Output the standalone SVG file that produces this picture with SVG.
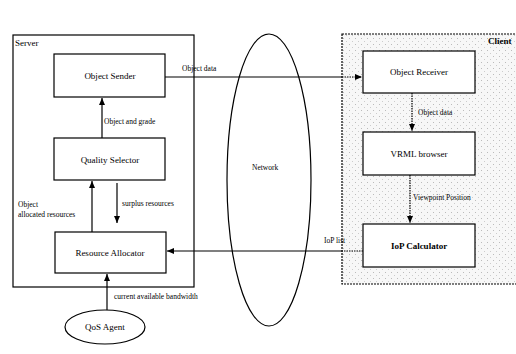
<svg xmlns="http://www.w3.org/2000/svg" width="516" height="354" viewBox="0 0 516 354">
<defs>
<style>
.box{fill:#fff;stroke:#000;stroke-width:1.2}
.lbl{font-family:"Liberation Serif",serif;font-size:9px;fill:#000}
.sm{font-family:"Liberation Serif",serif;font-size:7.5px;fill:#000}
.ln{stroke:#000;stroke-width:1.2;fill:none}
.dt{stroke:#000;stroke-width:1.2;fill:none;stroke-dasharray:1.5 1}
</style>
<pattern id="stip" width="6" height="6" patternUnits="userSpaceOnUse">
<rect width="6" height="6" fill="#f7f7f7"/>
<rect x="1" y="2" width="1" height="1" fill="#bbb"/>
<rect x="4" y="5" width="1" height="1" fill="#ccc"/>
</pattern>
<marker id="ah" markerWidth="8" markerHeight="8" refX="7" refY="4" orient="auto" markerUnits="userSpaceOnUse">
<path d="M0,1 L7,4 L0,7 Z" fill="#000"/>
</marker>
</defs>
<g id="server">
<rect x="13" y="35" width="181" height="252" fill="#fff" stroke="#000" stroke-width="1.2"/>
<text class="lbl" x="15" y="46">Server</text>
</g>
<g id="client">
<rect x="342" y="34" width="180" height="250" fill="url(#stip)" stroke="#000" stroke-width="1.2" stroke-dasharray="2 1"/>
<text class="lbl" x="488" y="44" font-weight="bold">Client</text>
</g>
<g id="network">
<ellipse cx="269" cy="180" rx="42" ry="146" fill="none" stroke="#000" stroke-width="1.2"/>
<text class="sm" x="252" y="170">Network</text>
</g>
<g id="object-sender">
<rect class="box" x="54" y="54" width="111" height="43"/>
<text class="lbl" x="110" y="79" text-anchor="middle">Object Sender</text>
</g>
<g id="quality-selector">
<rect class="box" x="54" y="138" width="111" height="42"/>
<text class="lbl" x="110" y="163" text-anchor="middle">Quality Selector</text>
</g>
<g id="resource-allocator">
<rect class="box" x="55" y="232" width="111" height="41"/>
<text class="lbl" x="110" y="256" text-anchor="middle">Resource Allocator</text>
</g>
<g id="qos-agent">
<ellipse cx="105" cy="327" rx="40" ry="17" fill="#fff" stroke="#000" stroke-width="1.2"/>
<text class="lbl" x="105" y="330" text-anchor="middle">QoS Agent</text>
</g>
<g id="object-receiver">
<rect class="box" x="363" y="51" width="112" height="42"/>
<text class="lbl" x="419" y="75" text-anchor="middle">Object Receiver</text>
</g>
<g id="vrml-browser">
<rect class="box" x="363" y="132" width="112" height="43"/>
<text class="lbl" x="419" y="157" text-anchor="middle">VRML browser</text>
</g>
<g id="iop-calculator">
<rect class="box" x="363" y="224" width="112" height="43"/>
<text class="lbl" x="419" y="249" text-anchor="middle" font-weight="bold">IoP Calculator</text>
</g>
<g id="connectors">
<path class="ln" d="M165,77 H342"/>
<path class="dt" d="M342,77 H362" marker-end="url(#ah)"/>
<text class="sm" x="182" y="71">Object data</text>
<path class="ln" d="M102,138 V98" marker-end="url(#ah)"/>
<text class="sm" x="104" y="124">Object and grade</text>
<path class="ln" d="M92,232 V181" marker-end="url(#ah)"/>
<text class="sm" x="18" y="207">Object</text>
<text class="sm" x="18" y="217">allocated resources</text>
<path class="ln" d="M117,183 V223" marker-end="url(#ah)"/>
<text class="sm" x="122" y="206">surplus resources</text>
<path class="ln" d="M107,310 V274" marker-end="url(#ah)"/>
<text class="sm" x="114" y="299">current available bandwidth</text>
<path class="dt" d="M412,93 V131" marker-end="url(#ah)"/>
<text class="sm" x="418" y="115">Object data</text>
<path class="dt" d="M410,175 V223" marker-end="url(#ah)"/>
<text class="sm" x="413" y="200">Viewpoint Position</text>
<path class="dt" d="M363,251 H342"/>
<path class="ln" d="M342,251 H167" marker-end="url(#ah)"/>
<text class="sm" x="324" y="243">IoP list</text>
</g>
</svg>
